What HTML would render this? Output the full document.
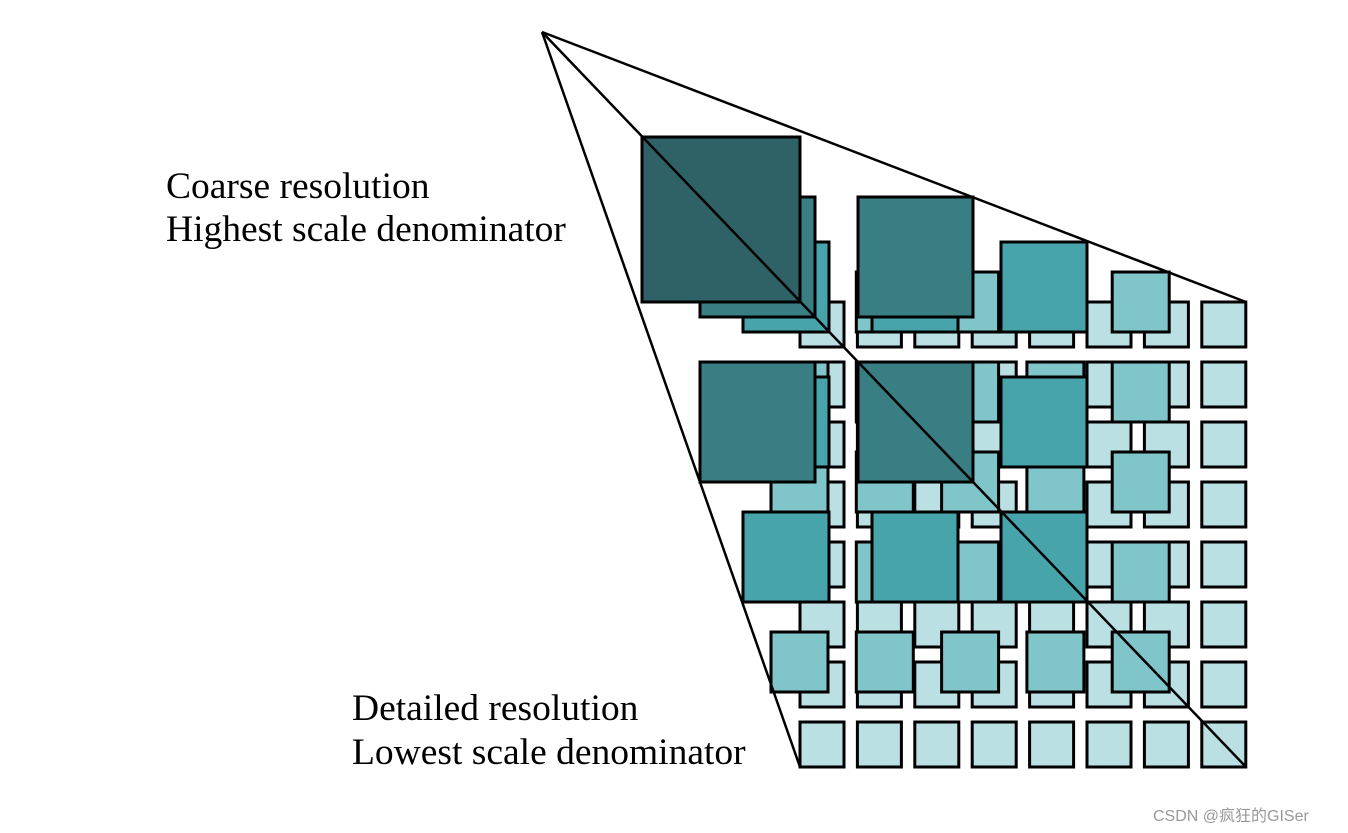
<!DOCTYPE html>
<html><head><meta charset="utf-8"><style>
html,body{margin:0;padding:0;background:#fff;}
svg{display:block;}
</style></head><body>
<svg width="1348" height="833" viewBox="0 0 1348 833" xmlns="http://www.w3.org/2000/svg" xmlns:xlink="http://www.w3.org/1999/xlink">
<defs>
<g id="r0" fill="#bbe0e3">
<rect x="800" y="302" width="44" height="45"/>
<rect x="857.4" y="302" width="44" height="45"/>
<rect x="914.8" y="302" width="44" height="45"/>
<rect x="972.2" y="302" width="44" height="45"/>
<rect x="1029.6" y="302" width="44" height="45"/>
<rect x="1087" y="302" width="44" height="45"/>
<rect x="1144.4" y="302" width="44" height="45"/>
<rect x="1201.8" y="302" width="44" height="45"/>
</g>
<g id="r1" fill="#80c5c9">
<rect x="771" y="272" width="57" height="60"/>
<rect x="856.3" y="272" width="57" height="60"/>
<rect x="941.6" y="272" width="57" height="60"/>
<rect x="1026.9" y="272" width="57" height="60"/>
<rect x="1112.2" y="272" width="57" height="60"/>
</g>
<g id="r2" fill="#48a4ab">
<rect x="743" y="242" width="86" height="90"/>
<rect x="872" y="242" width="86" height="90"/>
<rect x="1001" y="242" width="86" height="90"/>
</g>
<g id="r3" fill="#387e82">
<rect x="700" y="197" width="115" height="120"/>
<rect x="858" y="197" width="115" height="120"/>
</g>
</defs>
<g stroke="#000" stroke-width="3">
<use xlink:href="#r0" href="#r0"/>
<use xlink:href="#r0" href="#r0" y="60"/>
<use xlink:href="#r0" href="#r0" y="120"/>
<use xlink:href="#r0" href="#r0" y="180"/>
<use xlink:href="#r0" href="#r0" y="240"/>
<use xlink:href="#r0" href="#r0" y="300"/>
<use xlink:href="#r0" href="#r0" y="360"/>
<use xlink:href="#r0" href="#r0" y="420"/>
<use xlink:href="#r1" href="#r1"/>
<use xlink:href="#r1" href="#r1" y="90"/>
<use xlink:href="#r1" href="#r1" y="180"/>
<use xlink:href="#r1" href="#r1" y="270"/>
<use xlink:href="#r1" href="#r1" y="360"/>
<use xlink:href="#r2" href="#r2"/>
<use xlink:href="#r2" href="#r2" y="135"/>
<use xlink:href="#r2" href="#r2" y="270"/>
<use xlink:href="#r3" href="#r3"/>
<use xlink:href="#r3" href="#r3" y="165"/>
<rect x="642" y="137" width="158" height="165" fill="#2e6266"/>
</g>
<g fill="none" stroke="#000" stroke-width="2.5">
<line x1="542" y1="32" x2="1246" y2="302"/>
<line x1="542" y1="32" x2="800" y2="767"/>
<line x1="542" y1="32" x2="1246" y2="767"/>
</g>
<g font-family="Liberation Serif, serif" font-size="37.5" fill="#000">
<text x="166" y="198">Coarse resolution</text>
<text x="166" y="241">Highest scale denominator</text>
<text x="352" y="720">Detailed resolution</text>
<text x="352" y="764">Lowest scale denominator</text>
</g>
<text x="1153" y="821" font-family="Liberation Sans, 'Noto Sans CJK SC', sans-serif" font-size="16" fill="#999">CSDN @疯狂的GISer</text>
</svg>
</body></html>
